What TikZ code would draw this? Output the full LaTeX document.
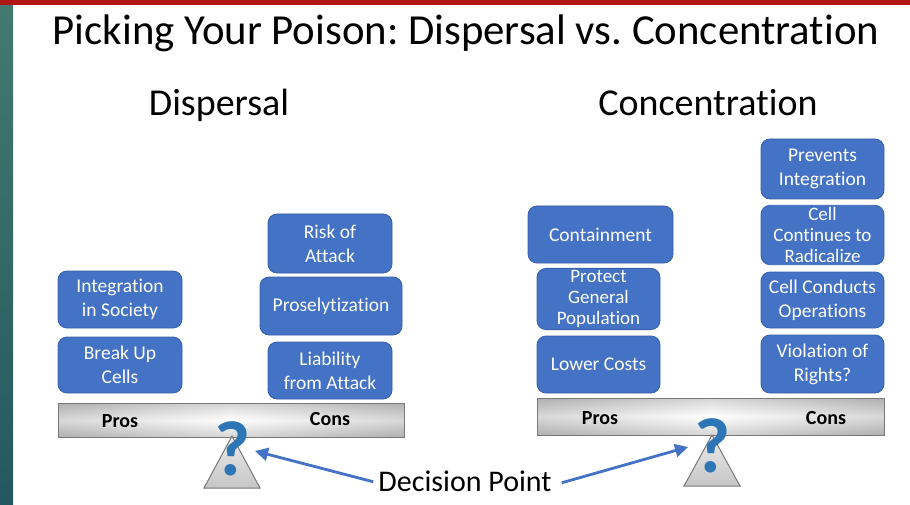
\documentclass[tikz,border=0pt]{standalone}
\usepackage{fontspec}
\setmainfont[Ligatures=NoCommon]{Carlito}
\usetikzlibrary{arrows.meta}
\frenchspacing
\definecolor{boxblue}{RGB}{68,114,196}
\definecolor{boxedge}{RGB}{55,95,170}
\definecolor{qblue}{RGB}{46,117,182}
\definecolor{arrowblue}{RGB}{68,114,196}
\definecolor{barred}{RGB}{176,22,22}
\definecolor{tealtop}{RGB}{66,122,112}
\definecolor{tealbot}{RGB}{36,88,96}
\definecolor{beamedge}{RGB}{120,120,120}
\tikzset{
  itembox/.style={draw=boxedge, line width=0.8pt, fill=boxblue, rounded corners=9pt,
    text=white, align=center, inner sep=2pt,
    font=\fontsize{19.5}{24}\selectfont},
  beamlabel/.style={font=\bfseries\fontsize{20}{24}\selectfont, text=black, anchor=base},
  heading/.style={font=\fontsize{38}{44}\selectfont, anchor=base},
  qmark/.style={font=\bfseries\fontsize{78}{80}\selectfont, text=qblue, anchor=base, inner sep=0pt},
  pointer/.style={draw=arrowblue, line width=2.8pt, -{Triangle[length=13pt,width=13pt]}},
}
\newcommand{\beam}[4]{% x0, y0, x1, y1
  \shade[left color=gray!55, right color=gray!55, middle color=white] (#1,#2) rectangle (#3,#4);
  \shade[top color=gray!70, bottom color=gray!70, middle color=white, opacity=0.45] (#1,#2) rectangle (#3,#4);
  \draw[beamedge, line width=1pt] (#1,#2) rectangle (#3,#4);
}
\newcommand{\fulcrum}[3]{% apex x, apex y, base y
  \shade[top color=gray!15, bottom color=gray!45, draw=beamedge, line width=1pt]
    (#1,#2) -- ({#1+28},#3) -- ({#1-28},#3) -- cycle;
}
\begin{document}
\begin{tikzpicture}[x=1pt,y=-1pt]
\useasboundingbox (0,0) rectangle (910,505);
\fill[white] (0,0) rectangle (910,505);
% frame strips
\shade[top color=tealtop, bottom color=tealbot] (0,5) rectangle (13,505);
\fill[barred] (0,0) rectangle (910,5);

% titles
\node[anchor=base, font=\fontsize{42.8}{48}\selectfont] (title) at (466,45) {Picking Your Poison: Dispersal vs. Concentration};
\node[heading] (hdisp) at (219,116) {Dispersal};
\node[heading] (hconc) at (708,116) {Concentration};

% dispersal balance
\beam{58}{403}{404}{437}
\node[beamlabel] (lpros) at (120,427) {Pros};
\node[beamlabel] (lcons) at (330,425) {Cons};
\fulcrum{232}{436}{488}
\node[qmark] (lq) at (233,475) {?};

\node[itembox, minimum width=124pt, minimum height=57pt] (intg) at (120,299.5) {Integration\\in Society};
\node[itembox, minimum width=124pt, minimum height=56pt] (brk) at (120,365) {Break Up\\Cells};
\node[itembox, minimum width=124pt, minimum height=59pt] (risk) at (330,243.5) {Risk of\\Attack};
\node[itembox, minimum width=142pt, minimum height=58pt] (prosel) at (331,306) {Proselytization};
\node[itembox, minimum width=124pt, minimum height=57pt] (liab) at (330,370.5) {Liability\\from Attack};

% concentration balance
\beam{537}{398}{884}{435}
\node[beamlabel] (rpros) at (600,424) {Pros};
\node[beamlabel] (rcons) at (826,424) {Cons};
\fulcrum{712}{435}{486}
\node[qmark] (rq) at (713,472) {?};

\node[itembox, minimum width=145pt, minimum height=57pt] (cont) at (600.5,234.5) {Containment};
\node[itembox, minimum width=123pt, minimum height=58pt, font=\fontsize{19}{21}\selectfont] (prot) at (598.5,299) {Protect\\General\\Population};
\node[itembox, minimum width=123pt, minimum height=57pt] (lower) at (598.5,364.5) {Lower Costs};
\node[itembox, minimum width=123pt, minimum height=60pt] (prev) at (822.5,169) {Prevents\\Integration};
\node[itembox, minimum width=123pt, minimum height=58pt, font=\fontsize{19}{21}\selectfont] (cellc) at (822.5,235) {Cell\\Continues to\\Radicalize};
\node[itembox, minimum width=123pt, minimum height=56pt] (cellop) at (822.5,300) {Cell Conducts\\Operations};
\node[itembox, minimum width=123pt, minimum height=58pt] (viol) at (822.5,364) {Violation of\\Rights?};

% decision point pointers
\node[anchor=base, font=\fontsize{30}{34}\selectfont, inner sep=0pt] (dp) at (465,491) {Decision Point};
\coordinate (ltip) at (255,451);
\coordinate (rtip) at (688,447);
\draw[pointer] ([xshift=-5pt,yshift=-1pt]dp.west) -- (ltip);
\draw[pointer] ([xshift=10pt,yshift=-2pt]dp.east) -- (rtip);
\end{tikzpicture}
\end{document}
